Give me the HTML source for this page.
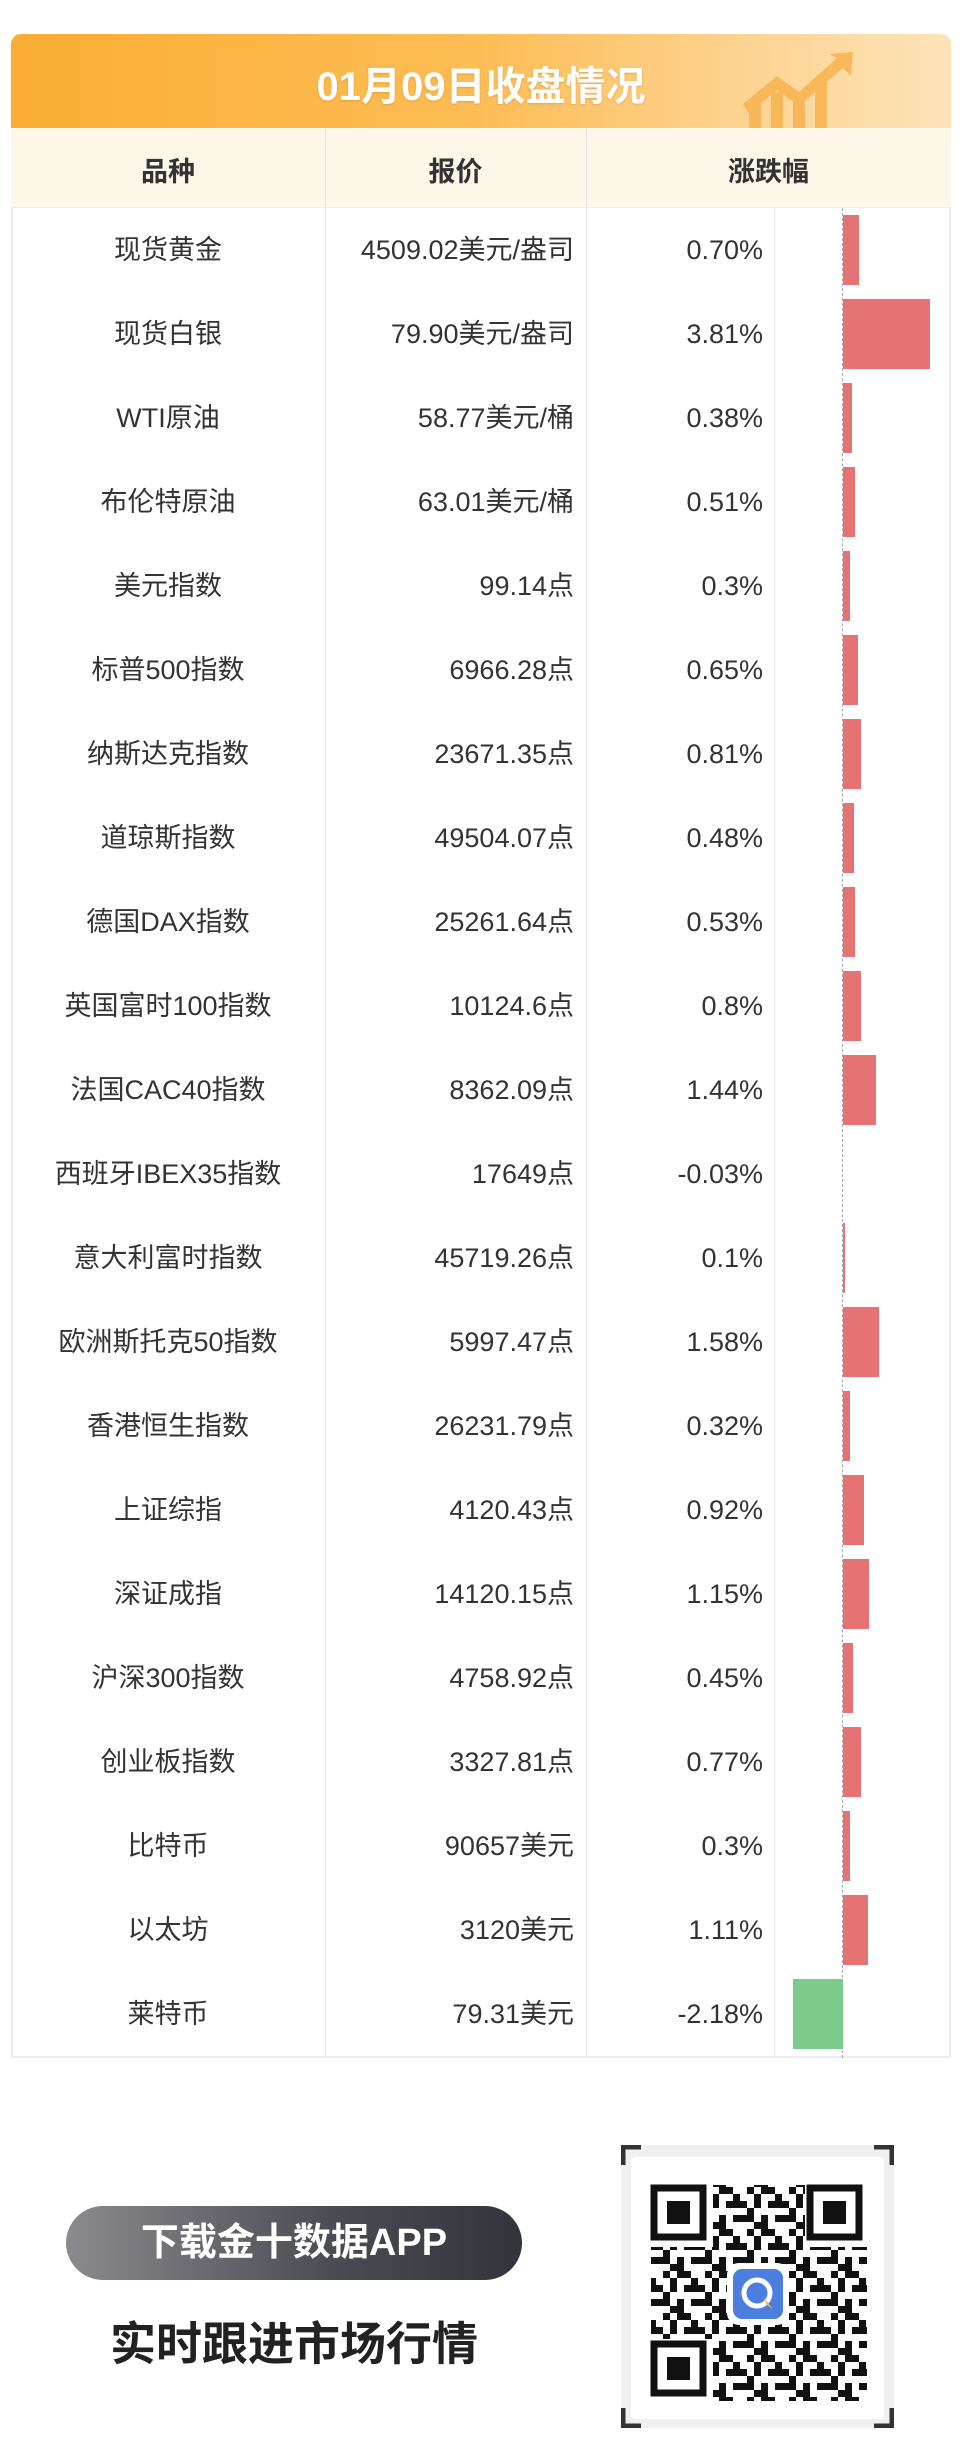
<!DOCTYPE html>
<html><head><meta charset="utf-8">
<style>
*{margin:0;padding:0;box-sizing:border-box}
body{width:960px;height:2452px;background:#fff;font-family:"Liberation Sans","Noto Sans CJK SC",sans-serif;position:relative;overflow:hidden;color:#333}
.hdr{position:absolute;left:11px;top:34px;width:940px;height:94px;border-radius:10px 10px 0 0;background:linear-gradient(90deg,#fbad33 0%,#fdbd55 50%,#fdd596 80%,#fde3b8 100%);}
.hdr .t{position:absolute;left:0;right:0;top:20px;text-align:center;color:#fff;font-size:40px;font-weight:bold;letter-spacing:0px;text-shadow:0 1px 2px rgba(180,100,0,.3)}
.ch{position:absolute;left:11px;top:128px;width:940px;height:80px;background:#fdf7ea;border-bottom:1px solid #eee}
.ch div{position:absolute;top:22px;font-size:27px;font-weight:bold;color:#333;text-align:center}
.tbl{position:absolute;left:11px;top:208px;width:940px;height:1850px;border:2px solid #eee;border-top:none}
.vl{position:absolute;top:128px;width:1px;background:#e8e8e8}
.row{position:absolute;left:11px;width:940px;height:84px;font-size:27px}
.row .n,.row .p,.row .c{line-height:34px;height:34px}
.row .n{position:absolute;left:0;width:314px;text-align:center;top:25px}
.row .p{position:absolute;right:377px;top:25px;text-align:right}
.row .c{position:absolute;right:188px;top:25px;text-align:right}
.bar{position:absolute;height:70px;top:7px}
.zero{position:absolute;left:842px;top:208px;width:1px;height:1850px;border-left:1px dashed #aaa}
.btn{position:absolute;left:66px;top:2206px;width:456px;height:74px;border-radius:37px;background:linear-gradient(90deg,#8a8a8e,#4a4a52 60%,#33333b);color:#fff;font-size:38px;font-weight:bold;text-align:center;line-height:74px}
.sub{position:absolute;left:46px;width:496px;top:2308px;text-align:center;font-size:46px;font-weight:bold;color:#222}
.qr{position:absolute;left:621px;top:2145px;width:273px;height:283px;background:#f0f0f0;border-radius:6px}
</style></head><body>
<div class="hdr"><div class="t">01月09日收盘情况</div>
<svg style="position:absolute;left:730px;top:18px" width="120" height="76"><g fill="#f7b04a" opacity=".8"><rect x="8" y="52" width="12" height="24"/><rect x="30" y="40" width="12" height="36"/><rect x="52" y="44" width="12" height="32"/><rect x="74" y="28" width="12" height="48"/><path d="M2 52 L36 24 L58 40 L96 6 L88 2 L112 0 L110 24 L102 16 L58 54 L36 38 L8 62Z"/></g></svg>
</div>
<div class="ch"><div style="left:0;width:314px">品种</div><div style="left:314px;width:261px">报价</div><div style="left:575px;width:365px">涨跌幅</div></div>
<div class="tbl"></div>
<div class="vl" style="left:325px;height:1930px"></div>
<div class="vl" style="left:586px;height:1930px"></div>
<div class="vl" style="left:774px;top:208px;height:1850px"></div>
<div class="zero"></div>

<div class="row" style="top:208px"><div class="n">现货黄金</div><div class="p">4509.02美元/盎司</div><div class="c">0.70%</div><div class="bar" style="left:832px;width:16px;background:#e57373"></div></div>
<div class="row" style="top:292px"><div class="n">现货白银</div><div class="p">79.90美元/盎司</div><div class="c">3.81%</div><div class="bar" style="left:832px;width:87px;background:#e57373"></div></div>
<div class="row" style="top:376px"><div class="n">WTI原油</div><div class="p">58.77美元/桶</div><div class="c">0.38%</div><div class="bar" style="left:832px;width:9px;background:#e57373"></div></div>
<div class="row" style="top:460px"><div class="n">布伦特原油</div><div class="p">63.01美元/桶</div><div class="c">0.51%</div><div class="bar" style="left:832px;width:12px;background:#e57373"></div></div>
<div class="row" style="top:544px"><div class="n">美元指数</div><div class="p">99.14点</div><div class="c">0.3%</div><div class="bar" style="left:832px;width:7px;background:#e57373"></div></div>
<div class="row" style="top:628px"><div class="n">标普500指数</div><div class="p">6966.28点</div><div class="c">0.65%</div><div class="bar" style="left:832px;width:15px;background:#e57373"></div></div>
<div class="row" style="top:712px"><div class="n">纳斯达克指数</div><div class="p">23671.35点</div><div class="c">0.81%</div><div class="bar" style="left:832px;width:18px;background:#e57373"></div></div>
<div class="row" style="top:796px"><div class="n">道琼斯指数</div><div class="p">49504.07点</div><div class="c">0.48%</div><div class="bar" style="left:832px;width:11px;background:#e57373"></div></div>
<div class="row" style="top:880px"><div class="n">德国DAX指数</div><div class="p">25261.64点</div><div class="c">0.53%</div><div class="bar" style="left:832px;width:12px;background:#e57373"></div></div>
<div class="row" style="top:964px"><div class="n">英国富时100指数</div><div class="p">10124.6点</div><div class="c">0.8%</div><div class="bar" style="left:832px;width:18px;background:#e57373"></div></div>
<div class="row" style="top:1048px"><div class="n">法国CAC40指数</div><div class="p">8362.09点</div><div class="c">1.44%</div><div class="bar" style="left:832px;width:33px;background:#e57373"></div></div>
<div class="row" style="top:1132px"><div class="n">西班牙IBEX35指数</div><div class="p">17649点</div><div class="c">-0.03%</div></div>
<div class="row" style="top:1216px"><div class="n">意大利富时指数</div><div class="p">45719.26点</div><div class="c">0.1%</div><div class="bar" style="left:832px;width:2px;background:#e57373"></div></div>
<div class="row" style="top:1300px"><div class="n">欧洲斯托克50指数</div><div class="p">5997.47点</div><div class="c">1.58%</div><div class="bar" style="left:832px;width:36px;background:#e57373"></div></div>
<div class="row" style="top:1384px"><div class="n">香港恒生指数</div><div class="p">26231.79点</div><div class="c">0.32%</div><div class="bar" style="left:832px;width:7px;background:#e57373"></div></div>
<div class="row" style="top:1468px"><div class="n">上证综指</div><div class="p">4120.43点</div><div class="c">0.92%</div><div class="bar" style="left:832px;width:21px;background:#e57373"></div></div>
<div class="row" style="top:1552px"><div class="n">深证成指</div><div class="p">14120.15点</div><div class="c">1.15%</div><div class="bar" style="left:832px;width:26px;background:#e57373"></div></div>
<div class="row" style="top:1636px"><div class="n">沪深300指数</div><div class="p">4758.92点</div><div class="c">0.45%</div><div class="bar" style="left:832px;width:10px;background:#e57373"></div></div>
<div class="row" style="top:1720px"><div class="n">创业板指数</div><div class="p">3327.81点</div><div class="c">0.77%</div><div class="bar" style="left:832px;width:18px;background:#e57373"></div></div>
<div class="row" style="top:1804px"><div class="n">比特币</div><div class="p">90657美元</div><div class="c">0.3%</div><div class="bar" style="left:832px;width:7px;background:#e57373"></div></div>
<div class="row" style="top:1888px"><div class="n">以太坊</div><div class="p">3120美元</div><div class="c">1.11%</div><div class="bar" style="left:832px;width:25px;background:#e57373"></div></div>
<div class="row" style="top:1972px"><div class="n">莱特币</div><div class="p">79.31美元</div><div class="c">-2.18%</div><div class="bar" style="left:782px;width:50px;background:#7dcb8b"></div></div>

<div class="btn">下载金十数据APP</div>
<div class="sub">实时跟进市场行情</div>
<div class="qr">
<svg width="273" height="283" style="position:absolute;left:0;top:0">
<defs><pattern id="q" width="42" height="42" patternUnits="userSpaceOnUse"><g fill="#111"><rect x="0" y="0" width="7" height="7"/><rect x="14" y="0" width="14" height="7"/><rect x="7" y="7" width="7" height="14"/><rect x="28" y="7" width="7" height="7"/><rect x="21" y="14" width="14" height="7"/><rect x="0" y="21" width="7" height="14"/><rect x="14" y="28" width="7" height="7"/><rect x="28" y="28" width="14" height="7"/><rect x="35" y="14" width="7" height="7"/><rect x="7" y="35" width="14" height="7"/></g></pattern></defs>
<rect x="10" y="12" width="253" height="262" fill="#fff" rx="4"/>
<rect x="30" y="40" width="216" height="216" fill="url(#q)"/>
<g fill="#fff"><rect x="28" y="38" width="64" height="64"/><rect x="184" y="38" width="64" height="64"/><rect x="28" y="194" width="64" height="64"/></g>
<g fill="none" stroke="#111" stroke-width="7"><rect x="33" y="43" width="49" height="49"/><rect x="189" y="43" width="49" height="49"/><rect x="33" y="199" width="49" height="49"/></g>
<g fill="#111"><rect x="46" y="56" width="23" height="23"/><rect x="202" y="56" width="23" height="23"/><rect x="46" y="212" width="23" height="23"/></g>
<rect x="106" y="118" width="62" height="62" rx="12" fill="#fff"/>
<rect x="112" y="124" width="50" height="50" rx="9" fill="#4a7fe0"/>
<circle cx="136" cy="148" r="13" fill="none" stroke="#fff" stroke-width="5"/>
<path d="M142 152 L152 164 L146 160Z" fill="#f2b33d"/>
<g fill="none" stroke="#333" stroke-width="5"><path d="M2 20 V2 H20"/><path d="M253 2 H271 V20"/><path d="M2 263 V281 H20"/><path d="M253 281 H271 V263"/></g>
</svg></div>
</body></html>
